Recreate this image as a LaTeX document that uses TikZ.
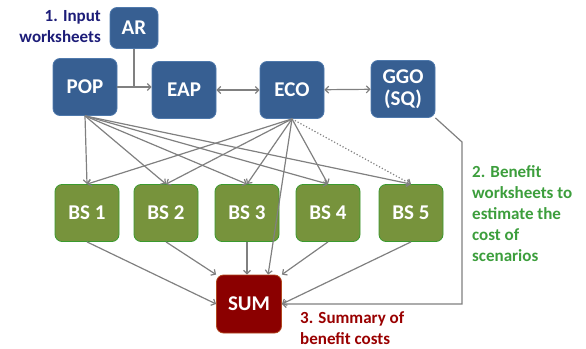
\documentclass[tikz,border=0pt]{standalone}
\usepackage{fontspec}
\setmainfont{Carlito}
\usetikzlibrary{arrows.meta,positioning}

\definecolor{boxblue}{HTML}{375F92}
\definecolor{blueedge}{HTML}{4F79AC}
\definecolor{boxgreen}{HTML}{77933C}
\definecolor{greenedge}{HTML}{3A9A2E}
\definecolor{boxred}{HTML}{8B0000}
\definecolor{rededge}{HTML}{B0471E}
\definecolor{linkgray}{HTML}{808080}
\definecolor{navytext}{HTML}{1C1C78}
\definecolor{greentext}{HTML}{3C9E3C}
\definecolor{redtext}{HTML}{990000}

\begin{document}
\begin{tikzpicture}[x=1pt, y=-1pt,
    sheet/.style={rounded corners=7pt, text=white, line width=0.8pt, align=center, inner sep=0pt,
        minimum width=64pt, minimum height=57pt, font=\fontsize{21}{22}\selectfont\bfseries},
    inbox/.style={sheet, draw=blueedge, fill=boxblue},
    bsbox/.style={sheet, draw=greenedge, fill=boxgreen},
    sumbox/.style={sheet, draw=rededge, fill=boxred, minimum width=65pt, minimum height=58pt},
    note/.style={inner sep=0pt, font=\fontsize{17}{21}\selectfont\bfseries},
    link/.style={draw=linkgray, line width=1.2pt, -{Straight Barb[length=3.5pt,width=7pt]}},
    twolink/.style={link, {Straight Barb[length=3.5pt,width=7pt]}-{Straight Barb[length=3.5pt,width=7pt]}}
]
    \useasboundingbox (0,0) rectangle (586,348);

    % Input worksheets
    \node[inbox, minimum width=48pt, minimum height=41pt] (ar) at (134,28) {AR};
    \node[inbox] (pop) at (85,87) {POP};
    \node[inbox] (eap) at (184,90) {EAP};
    \node[inbox] (eco) at (292,90) {ECO};
    \node[inbox] (ggo) at (403,89) {GGO\\(SQ)};
    \node[note, anchor=north east, align=right, text=navytext] (inlabel) at (101,10) {1. Input\\worksheets};

    % Benefit worksheets
    \foreach \i/\x in {1/87,2/166,3/247,4/328,5/411}
        \node[bsbox] (bs\i) at (\x,213) {BS \i};
    \node[note, anchor=north west, align=left, text=greentext] (bslabel) at (472,165)
        {2. Benefit\\worksheets to\\estimate the\\cost of\\scenarios};

    % Summary
    \node[sumbox] (sum) at (249,304) {SUM};
    \node[note, anchor=north west, align=left, text=redtext] (sumlabel) at (300,311)
        {3. Summary of\\benefit costs};

    % Links between input worksheets
    \coordinate (arjoin) at (ar.south |- pop.east);
    \draw[link] (pop.east) -- (pop.east -| eap.west);
    \draw[draw=linkgray, line width=1.2pt] (ar.south) -- (arjoin);
    \draw[twolink] (eap) -- (eco);
    \draw[twolink] (eco) -- (ggo);

    % Inputs to benefit worksheets
    \foreach \i in {1,...,5}
        \draw[link] (pop.south) -- (bs\i.north);
    \foreach \i in {1,...,4}
        \draw[link] (eco.south) -- (bs\i.north);
    \draw[link, dotted] (eco.south) -- (bs5.north);
    \draw[link] (eco.south) -- (sum.57);

    % Benefit worksheets to summary
    \draw[link] (bs1.south) -- (sum.west);
    \draw[link] (bs2.south) -- (sum.north west);
    \draw[link] (bs3.south) -- (bs3.south |- sum.north);
    \draw[link] (bs4.south) -- (sum.north east);
    \draw[link] (bs5.south) -- (sum.east);

    % Status quo straight to summary
    \coordinate (ggobend) at (462,142);
    \draw[link] (ggo.south east) -- (ggobend) -- (ggobend |- sum.east) -- (sum.east);
\end{tikzpicture}
\end{document}
